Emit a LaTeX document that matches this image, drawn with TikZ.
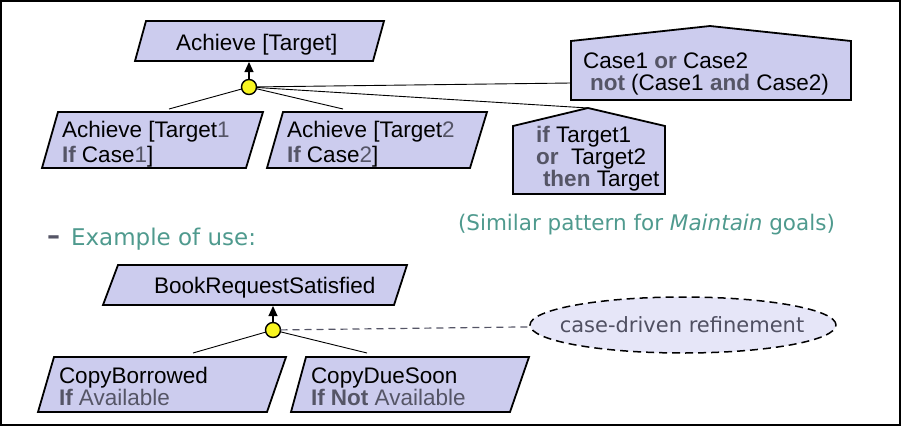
\documentclass[tikz,border=0pt]{standalone}
\usepackage{fontspec}
\setmainfont{Liberation Sans}
\newfontfamily\comicf{DejaVu Sans}
\usetikzlibrary{arrows.meta,shapes.geometric}
\definecolor{goalfill}{HTML}{CCCCEE}
\definecolor{kw}{HTML}{555566}
\definecolor{myteal}{HTML}{4F9A8E}
\definecolor{andy}{HTML}{F8F520}
\definecolor{ellfill}{HTML}{E6E6F8}
\definecolor{elltext}{HTML}{505062}
\newcommand{\kwb}[1]{{\bfseries\color{kw}#1}}
\newcommand{\kwr}[1]{{\color{kw}#1}}
\begin{document}
\begin{tikzpicture}[x=1pt,y=-1pt,
  every node/.style={inner sep=0pt,outer sep=0pt},
  goal/.style={fill=goalfill,draw=black,line width=1.8pt,line join=miter},
  txt/.style={anchor=base west,font=\fontsize{22.5}{24}\selectfont},
  andnode/.style={circle,draw=black,fill=andy,line width=1.4pt,minimum size=15pt},
  refline/.style={draw=black,line width=0.9pt},
  uparrow/.style={draw=black,line width=1.1pt,-{Triangle[width=9pt,length=10pt]}},
  comictxt/.style={anchor=base west,font=\comicf\fontsize{21.5}{24}\selectfont,text=myteal}]
\useasboundingbox (0,0) rectangle (902,426);
\draw[line width=1.5pt] (1,1) rectangle (900,425);

% ---------- top pattern ----------
\draw[goal] (146,21) -- (384,21) -- (373,61) -- (135,61) -- cycle;
\node[txt] (t0) at (176,50) {Achieve [Target]};
\coordinate (g0b) at (249,62);

\draw[goal] (58,112) -- (263,112) -- (246,168) -- (42,168) -- cycle;
\node[txt] (t1a) at (62,137) {Achieve [Target\kwr{1}};
\node[txt] (t1b) at (62,162) {\kwb{If} Case\kwr{1}]};
\coordinate (c1t) at (169,109);

\draw[goal] (283,112) -- (487,112) -- (470,168) -- (267,168) -- cycle;
\node[txt] (t2a) at (287,137) {Achieve [Target\kwr{2}};
\node[txt] (t2b) at (287,162) {\kwb{If} Case\kwr{2}]};
\coordinate (c2t) at (343,109);

\draw[goal] (571,41) -- (710,26) -- (851,41) -- (851,100) -- (571,100) -- cycle;
\node[txt] (ca) at (583,68) {Case1 \kwb{or} Case2};
\node[txt] (cb) at (590,90) {\kwb{not} (Case1 \kwb{and} Case2)};
\coordinate (caseL) at (571,83);

\draw[goal] (513,126) -- (588,108) -- (665,126) -- (665,194) -- (513,194) -- cycle;
\node[txt] (ia) at (536,142) {\kwb{if} Target1};
\node[txt] (ib) at (536,164) {\kwb{or}\ \ Target2};
\node[txt] (ic) at (543,186) {\kwb{then} Target};
\coordinate (ifT) at (588,108);

\node[andnode] (and1) at (249,87) {};
\draw[uparrow] (and1) -- (g0b);
\draw[refline] (and1) -- (c1t);
\draw[refline] (and1) -- (c2t);
\draw[refline] (and1) -- (caseL);
\draw[refline] (and1) -- (ifT);

% ---------- texts ----------
\node[anchor=base west,font=\comicf\bfseries\fontsize{26}{24}\selectfont,text=kw] (dash) at (47,244) {–};
\node[comictxt,font=\comicf\fontsize{23}{24}\selectfont] (ex) at (71,245) {Example of use:};
\node[comictxt] (sim) at (458,230) {(Similar pattern for \textit{Maintain} goals)};

% ---------- example ----------
\draw[goal] (118,265) -- (407,265) -- (394,305) -- (103,305) -- cycle;
\node[txt] (bt) at (154,293) {BookRequestSatisfied};
\coordinate (g3b) at (273,306);

\draw[goal] (54,357) -- (286,357) -- (267,412) -- (38,412) -- cycle;
\node[txt] (b1a) at (59,383) {CopyBorrowed};
\node[txt] (b1b) at (59,405) {\kwb{If} \kwr{Available}};
\coordinate (b1t) at (193,353);

\draw[goal] (306,357) -- (529,357) -- (510,412) -- (291,412) -- cycle;
\node[txt] (b2a) at (311,383) {CopyDueSoon};
\node[txt] (b2b) at (311,405) {\kwb{If Not} \kwr{Available}};
\coordinate (b2t) at (367,353);

\node[ellipse,draw=black,dash pattern=on 8pt off 5pt,line width=1.5pt,fill=ellfill,
      minimum width=306pt,minimum height=56pt] (ell) at (683,325) {};
\node[font=\comicf\fontsize{21}{24}\selectfont,text=elltext] (ellt) at (682,325) {case-driven refinement};

\node[andnode] (and2) at (273,330) {};
\draw[uparrow] (and2) -- (g3b);
\draw[refline] (and2) -- (b1t);
\draw[refline] (and2) -- (b2t);
\draw[draw=kw,line width=1.2pt,dash pattern=on 7pt off 5pt] (and2) -- (ell);
\end{tikzpicture}
\end{document}
